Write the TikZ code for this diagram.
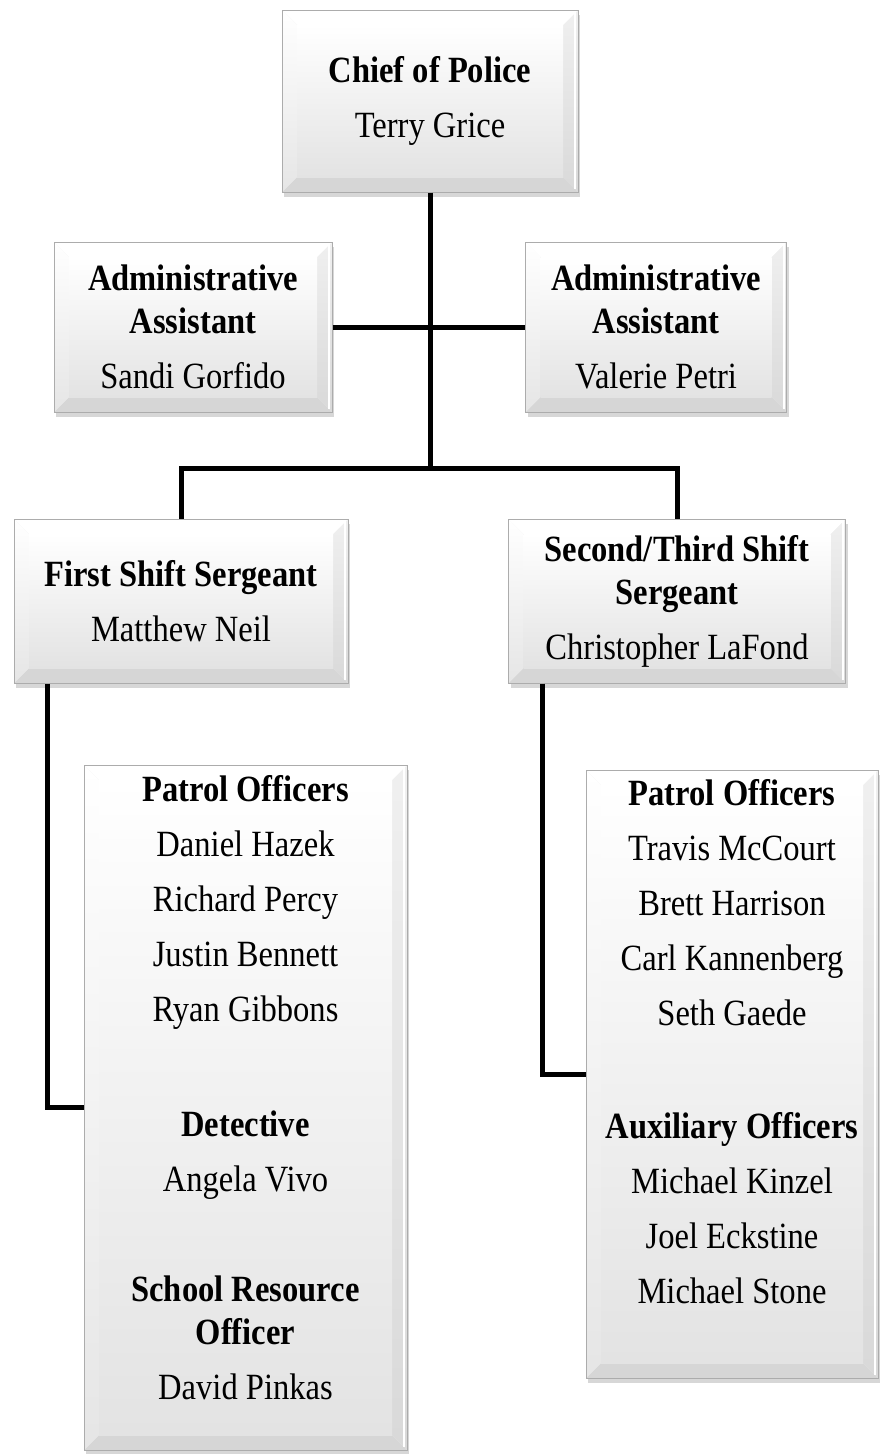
\documentclass[tikz,border=0pt]{standalone}
\usepackage{fontspec}
\setmainfont[FakeStretch=0.88]{Liberation Serif}
\usetikzlibrary{positioning,shadows,calc}
\newcommand{\bevelfaces}{%
  \coordinate (bsw) at (path picture bounding box.south west);
  \coordinate (bse) at (path picture bounding box.south east);
  \coordinate (bnw) at (path picture bounding box.north west);
  \coordinate (bne) at (path picture bounding box.north east);
  \coordinate (isw) at ([shift={(15pt,15pt)}]bsw);
  \coordinate (ise) at ([shift={(-15pt,15pt)}]bse);
  \coordinate (inw) at ([shift={(15pt,-15pt)}]bnw);
  \coordinate (ine) at ([shift={(-15pt,-15pt)}]bne);
  \fill[gray!32] (bsw) -- (bse) -- (ise) -- (isw) -- cycle;
  \shade[top color=gray!12, bottom color=gray!30] (bse) -- (bne) -- (ine) -- (ise) -- cycle;
  \fill[white] (bnw) -- (bne) -- (ine) -- (inw) -- cycle;
  \shade[top color=white, bottom color=gray!20] (bsw) -- (bnw) -- (inw) -- (isw) -- cycle;
  \shade[top color=white, bottom color=gray!22] (isw) rectangle (ine);
  \draw[white, line width=2pt] ([xshift=-3pt]bne) -- ([shift={(-3pt,3pt)}]bse);
}

\begin{document}
\begin{tikzpicture}[
    x=1pt, y=-1pt,
    bevelbox/.style={draw=gray!65, line width=1pt, align=center, inner sep=0pt,
        font=\fontsize{37}{43}\selectfont, fill=gray!15,
        drop shadow={shadow xshift=2pt, shadow yshift=-5pt, opacity=0.45, fill=gray!70},
        path picture={\bevelfaces}},
    link/.style={line width=5pt}
]
    \useasboundingbox (0,0) rectangle (880,1454);

    % Boxes
    \node[bevelbox, minimum width=296pt, minimum height=182pt] (chief) at (430,101)
        {\textbf{Chief of Police}\\[12pt]Terry Grice};
    \node[bevelbox, minimum width=278pt, minimum height=170pt] (asst1) at (193,327)
        {\textbf{Administrative}\\\textbf{Assistant}\\[12pt]Sandi Gorfido};
    \node[bevelbox, minimum width=261pt, minimum height=170pt] (asst2) at (656,327)
        {\textbf{Administrative}\\\textbf{Assistant}\\[12pt]Valerie Petri};
    \node[bevelbox, minimum width=334pt, minimum height=164pt] (sgt1) at (181,601)
        {\textbf{First Shift Sergeant}\\[12pt]Matthew Neil};
    \node[bevelbox, minimum width=337pt, minimum height=164pt] (sgt2) at (677,601)
        {\textbf{Second/Third Shift}\\\textbf{Sergeant}\\[12pt]Christopher LaFond};
    \node[bevelbox, minimum width=323pt, minimum height=685pt] (crew1) at (245.5,1107.5)
        {\textbf{Patrol Officers}\\[12pt]Daniel Hazek\\[12pt]Richard Percy\\[12pt]Justin Bennett\\[12pt]Ryan Gibbons\\[72pt]
         \textbf{Detective}\\[12pt]Angela Vivo\\[67pt]
         \textbf{School Resource}\\\textbf{Officer}\\[12pt]David Pinkas\rule[-40pt]{0pt}{0pt}};
    \node[bevelbox, minimum width=292pt, minimum height=608pt] (crew2) at (732,1074)
        {\textbf{Patrol Officers}\\[12pt]Travis McCourt\\[12pt]Brett Harrison\\[12pt]Carl Kannenberg\\[12pt]Seth Gaede\\[70pt]
         \textbf{Auxiliary Officers}\\[12pt]Michael Kinzel\\[12pt]Joel Eckstine\\[12pt]Michael Stone\rule[-66pt]{0pt}{0pt}};

    % Lines
    \coordinate (hub) at (430,468);
    \draw[link] (chief.south) -- (hub);
    \draw[link] (asst1.east) -- (asst2.west);
    \draw[link] (hub) -| (sgt1.north);
    \draw[link] (hub) -| (sgt2.north);
    \draw[link] ([xshift=34pt]sgt1.south west) |- (crew1.west);
    \draw[link] ([xshift=34pt]sgt2.south west) |- (crew2.west);
\end{tikzpicture}
\end{document}
